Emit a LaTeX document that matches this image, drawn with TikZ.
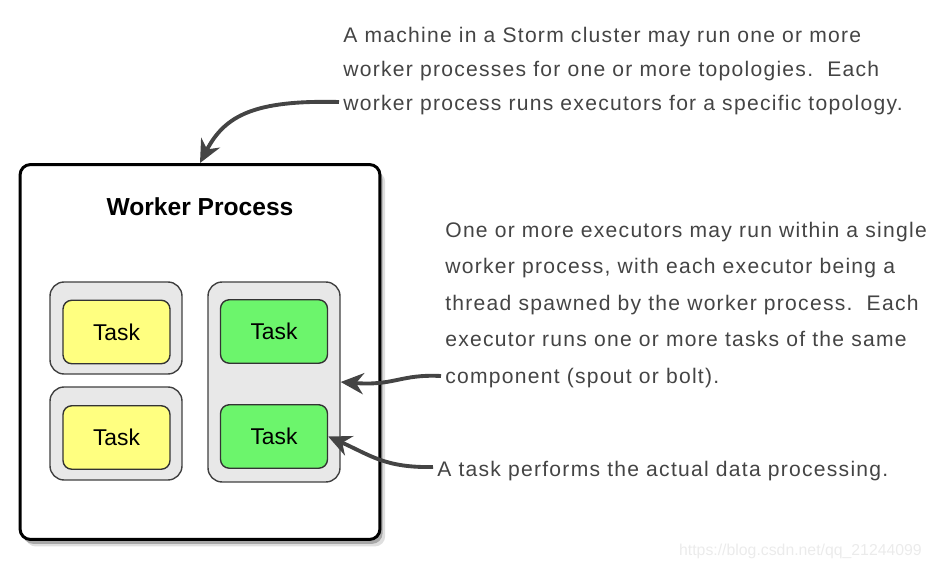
\documentclass[tikz,border=0pt]{standalone}
\usepackage{fontspec}
\setmainfont{Liberation Sans}
\newfontfamily\notefont[LetterSpace=6]{Liberation Sans}
\usetikzlibrary{arrows.meta,shadows}
\definecolor{taskyellow}{HTML}{FFFF80}
\definecolor{taskgreen}{HTML}{6CF56C}
\definecolor{execgray}{HTML}{E8E8E8}
\definecolor{inkgray}{HTML}{444444}
\tikzstyle{worker}=[rectangle,rounded corners=6pt,draw=black,line width=1.7pt,fill=white,minimum width=7.2cm,minimum height=7.5cm,
  drop shadow={shadow xshift=3pt,shadow yshift=-4pt,fill=black!25},drop shadow={shadow xshift=1.5pt,shadow yshift=-2.5pt,fill=black!55}]
\tikzstyle{executor}=[rectangle,rounded corners=8pt,draw=black!75,line width=0.8pt,fill=execgray,minimum width=2.64cm]
\tikzstyle{task}=[rectangle,rounded corners=5pt,draw=black!80,line width=0.8pt,minimum width=2.14cm,minimum height=1.27cm,font=\fontsize{13}{15}\selectfont]
\tikzstyle{note}=[inner sep=0,align=left,text=inkgray]
\tikzstyle{arrow}=[line width=2.2pt,inkgray,-{Stealth[length=13pt,width=12pt]}]

\begin{document}
\begin{tikzpicture}[x=0.02cm,y=-0.02cm]
\useasboundingbox (0,0) rectangle (937,567);

% worker process
\node[worker] (worker) at (200,352) {};
\node[font=\bfseries\fontsize{14}{16}\selectfont] (title) at (200,207) {Worker Process};

% executors
\node[executor,minimum height=1.84cm] (exec1) at (116,328) {};
\node[executor,minimum height=1.86cm] (exec2) at (116,433.5) {};
\node[executor,minimum height=4cm] (exec3) at (274,382) {};

% tasks
\node[task,fill=taskyellow] (task1) at (116.5,332) {Task};
\node[task,fill=taskyellow] (task2) at (116.5,437.5) {Task};
\node[task,fill=taskgreen] (task3) at (274,331.5) {Task};
\node[task,fill=taskgreen] (task4) at (274,436.5) {Task};

% notes
\node[note,anchor=north west,font=\notefont\fontsize{12}{19.3}\selectfont] (machine) at (343,27)
  {A machine in a Storm cluster may run one or more\\
   worker processes for one or more topologies.\ \ Each\\
   worker process runs executors for a specific topology.};
\node[note,anchor=north west,font=\notefont\fontsize{12}{20.7}\selectfont] (executors) at (445,222)
  {One or more executors may run within a single\\
   worker process, with each executor being a\\
   thread spawned by the worker process.\ \ Each\\
   executor runs one or more tasks of the same\\
   component (spout or bolt).};
\node[note,anchor=base west,font=\notefont\fontsize{12}{14}\selectfont] (tasks) at (437,477)
  {A task performs the actual data processing.};

% arrows
\coordinate (from1) at (339,102);
\coordinate (from2) at (441,376);
\coordinate (from3) at (433,467);
\draw[arrow] (from1) .. controls (255,100) and (225,115) .. (worker.north);
\draw[arrow] (from2) .. controls (400,374) and (395,386) .. (exec3.east);
\draw[arrow] (from3) .. controls (385,468) and (370,455) .. (task4.east);

\node[text=black!8,font=\fontsize{9}{10}\selectfont,anchor=base east] (mark) at (928,556) {https://blog.csdn.net/qq\_21244099};
\end{tikzpicture}
\end{document}
